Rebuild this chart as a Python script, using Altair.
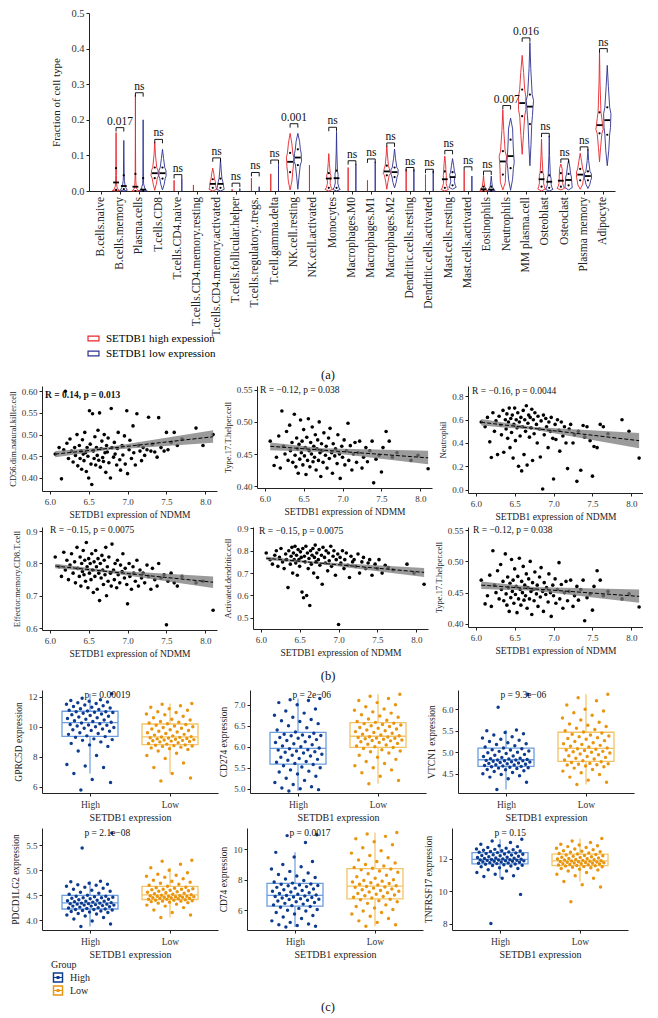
import json
import numpy as np
import pandas as pd
import altair as alt

FONT = "Liberation Serif"
RED = "#e8262b"
NAVY = "#2e3192"
HI_LAB = "SETDB1 high expession"
LO_LAB = "SETDB1 low expression"

# ---------------- panel (a): violin summaries ----------------
cats = ["B.cells.naive", "B.cells.memory", "Plasma.cells", "T.cells.CD8", "T.cells.CD4.naive",
        "T.cells.CD4.memory.resting", "T.cells.CD4.memory.activated", "T.cells.follicular.helper",
        "T.cells.regulatory..tregs.", "T.cell.gamma.delta", "NK.cell.resting", "NK.cell.activated",
        "Monocytes", "Macrophages.M0", "Macrophages.M1", "Macrophages.M2", "Dendritic.cells.resting",
        "Dendritic.cells.activated", "Mast.cells.resting", "Mast.cells.activated", "Eosinophils",
        "Neutrophils", "MM plasma.cell", "Osteoblast", "Osteoclast", "Plasma memory", "Adipocyte"]

hi_min = [0, 0, 0, 0.002, 0, 0, 0, 0, 0, 0, 0.003, 0, 0, 0, 0, 0.005, 0, 0, 0, 0, 0, 0.003, 0.103, 0, 0.003, 0.005, 0.082]
hi_q1 = [0, 0.003, 0, 0.036, 0, 0, 0.009, 0, 0, 0, 0.053, 0, 0.009, 0, 0, 0.044, 0, 0, 0.009, 0, 0, 0.046, 0.21, 0.012, 0.012, 0.03, 0.162]
hi_med = [0, 0.024, 0.012, 0.05, 0, 0, 0.02, 0, 0, 0, 0.082, 0, 0.035, 0, 0, 0.055, 0, 0, 0.033, 0, 0.005, 0.083, 0.247, 0.033, 0.029, 0.046, 0.185]
hi_q3 = [0, 0.064, 0.048, 0.066, 0, 0, 0.033, 0, 0, 0, 0.107, 0, 0.05, 0, 0, 0.071, 0, 0, 0.055, 0, 0.012, 0.112, 0.285, 0.053, 0.05, 0.062, 0.221]
hi_max = [0, 0.164, 0.27, 0.137, 0.03, 0.017, 0.064, 0.005, 0.036, 0.048, 0.162, 0.073, 0.105, 0.066, 0.03, 0.126, 0.062, 0.046, 0.098, 0.057, 0.044, 0.228, 0.381, 0.146, 0.076, 0.106, 0.392]

lo_min = [0, 0, 0, 0.003, 0, 0, 0, 0, 0, 0, 0.005, 0, 0, 0, 0, 0.009, 0, 0, 0.005, 0, 0, 0.002, 0.071, 0, 0.003, 0.007, 0.071]
lo_q1 = [0, 0.005, 0, 0.035, 0, 0, 0.009, 0, 0, 0, 0.073, 0, 0.009, 0, 0, 0.039, 0, 0, 0.016, 0, 0, 0.064, 0.188, 0.009, 0.016, 0.03, 0.158]
lo_med = [0, 0.014, 0.004, 0.05, 0, 0, 0.02, 0, 0, 0, 0.094, 0, 0.036, 0, 0, 0.053, 0, 0, 0.039, 0, 0.004, 0.098, 0.237, 0.026, 0.031, 0.042, 0.199]
lo_q3 = [0, 0.044, 0.036, 0.066, 0, 0, 0.035, 0, 0, 0, 0.117, 0, 0.057, 0, 0, 0.066, 0, 0, 0.053, 0, 0.012, 0.144, 0.271, 0.044, 0.048, 0.055, 0.235]
lo_max = [0, 0.142, 0.20, 0.117, 0.035, 0, 0.089, 0.007, 0.012, 0.075, 0.162, 0, 0.167, 0.076, 0.082, 0.118, 0.06, 0.057, 0.091, 0.042, 0.042, 0.205, 0.417, 0.155, 0.087, 0.117, 0.353]

br_y = [None, 0.178, 0.276, 0.145, 0.046, None, 0.093, 0.022, 0.052, 0.087, 0.189, None, 0.179, 0.085, 0.09,
        0.135, 0.066, 0.061, 0.114, 0.068, 0.056, 0.24, 0.43, 0.162, 0.09, 0.124, 0.40]
br_lab = ["", "0.017", "ns", "ns", "ns", "", "ns", "ns", "ns", "ns", "0.001", "", "ns", "ns", "ns", "ns", "ns",
          "ns", "ns", "ns", "ns", "0.007", "0.016", "ns", "ns", "ns", "ns"]

# ---------------- panel (b): scatter data ----------------
setdb1_expr = [6.07, 6.12, 6.15, 6.18, 6.20, 6.22, 6.24, 6.26, 6.28, 6.30,
               6.32, 6.33, 6.35, 6.36, 6.38, 6.39, 6.40, 6.41, 6.42, 6.43,
               6.44, 6.45, 6.46, 6.47, 6.48, 6.49, 6.50, 6.51, 6.52, 6.53,
               6.54, 6.55, 6.56, 6.57, 6.58, 6.59, 6.60, 6.61, 6.62, 6.63,
               6.64, 6.65, 6.66, 6.67, 6.68, 6.69, 6.70, 6.71, 6.72, 6.73,
               6.74, 6.75, 6.76, 6.78, 6.79, 6.80, 6.82, 6.83, 6.84, 6.86,
               6.87, 6.88, 6.90, 6.91, 6.93, 6.94, 6.96, 6.97, 6.99, 7.00,
               7.02, 7.03, 7.05, 7.07, 7.08, 7.10, 7.12, 7.14, 7.16, 7.18,
               7.20, 7.22, 7.25, 7.27, 7.30, 7.32, 7.35, 7.38, 7.40, 7.43,
               7.47, 7.50, 7.52, 7.56, 7.60, 7.64, 7.70, 7.88, 7.97, 8.10]

y_cd56_nk = [0.455, 0.470, 0.398, 0.465, 0.600, 0.480, 0.445, 0.490, 0.462, 0.437,
             0.470, 0.452, 0.500, 0.428, 0.475, 0.445, 0.462, 0.420, 0.488, 0.455,
             0.440, 0.505, 0.458, 0.415, 0.470, 0.450, 0.400, 0.555, 0.478, 0.432,
             0.385, 0.548, 0.462, 0.445, 0.495, 0.430, 0.470, 0.452, 0.510, 0.441,
             0.550, 0.425, 0.468, 0.485, 0.447, 0.438, 0.500, 0.458, 0.413, 0.475,
             0.460, 0.492, 0.435, 0.400, 0.560, 0.470, 0.448, 0.482, 0.455, 0.430,
             0.468, 0.505, 0.442, 0.418, 0.475, 0.453, 0.497, 0.432, 0.555, 0.410,
             0.465, 0.487, 0.445, 0.520, 0.458, 0.430, 0.548, 0.475, 0.462, 0.440,
             0.470, 0.452, 0.465, 0.540, 0.462, 0.478, 0.460, 0.448, 0.539, 0.470,
             0.462, 0.505, 0.465, 0.482, 0.505, 0.475, 0.490, 0.515, 0.475, 0.500]

y_th17 = [0.470, 0.432, 0.445, 0.478, 0.428, 0.517, 0.462, 0.450, 0.485, 0.440,
          0.495, 0.455, 0.468, 0.437, 0.512, 0.448, 0.430, 0.475, 0.458, 0.420,
          0.465, 0.442, 0.503, 0.452, 0.470, 0.433, 0.488, 0.447, 0.460, 0.418,
          0.476, 0.440, 0.505, 0.455, 0.430, 0.468, 0.450, 0.492, 0.438, 0.462,
          0.445, 0.480, 0.425, 0.458, 0.472, 0.440, 0.500, 0.452, 0.415, 0.466,
          0.455, 0.437, 0.483, 0.448, 0.462, 0.428, 0.475, 0.443, 0.490, 0.452,
          0.420, 0.466, 0.447, 0.458, 0.435, 0.480, 0.450, 0.412, 0.462, 0.445,
          0.472, 0.433, 0.455, 0.498, 0.440, 0.463, 0.425, 0.450, 0.468, 0.437,
          0.452, 0.470, 0.428, 0.445, 0.460, 0.438, 0.455, 0.470, 0.405, 0.442,
          0.448, 0.422, 0.460, 0.485, 0.470, 0.445, 0.452, 0.440, 0.448, 0.427]

y_neutrophil = [0.580, 0.540, 0.620, 0.410, 0.275, 0.660, 0.500, 0.590, 0.300, 0.630,
                0.555, 0.470, 0.680, 0.320, 0.600, 0.520, 0.650, 0.440, 0.580, 0.700,
                0.360, 0.610, 0.490, 0.640, 0.270, 0.560, 0.700, 0.420, 0.600, 0.530,
                0.660, 0.200, 0.580, 0.460, 0.620, 0.160, 0.540, 0.680, 0.300, 0.600,
                0.500, 0.720, 0.210, 0.570, 0.640, 0.450, 0.620, 0.530, 0.690, 0.250,
                0.600, 0.480, 0.660, 0.560, 0.400, 0.630, 0.520, 0.280, 0.590, 0.005,
                0.640, 0.470, 0.610, 0.540, 0.360, 0.580, 0.500, 0.620, 0.440, 0.090,
                0.560, 0.430, 0.600, 0.510, 0.330, 0.580, 0.460, 0.540, 0.400, 0.180,
                0.520, 0.560, 0.400, 0.470, 0.070, 0.500, 0.165, 0.550, 0.450, 0.540,
                0.420, 0.115, 0.370, 0.360, 0.560, 0.540, 0.480, 0.600, 0.500, 0.270]

y_cd8_em = [0.820, 0.790, 0.760, 0.835, 0.780, 0.810, 0.750, 0.795, 0.830, 0.770,
            0.805, 0.740, 0.850, 0.785, 0.760, 0.820, 0.730, 0.800, 0.775, 0.840,
            0.765, 0.810, 0.745, 0.865, 0.790, 0.725, 0.815, 0.770, 0.800, 0.750,
            0.830, 0.780, 0.710, 0.805, 0.760, 0.840, 0.790, 0.720, 0.815, 0.770,
            0.685, 0.800, 0.755, 0.825, 0.780, 0.735, 0.810, 0.765, 0.850, 0.700,
            0.790, 0.745, 0.820, 0.770, 0.730, 0.860, 0.780, 0.750, 0.800, 0.725,
            0.810, 0.765, 0.740, 0.795, 0.775, 0.830, 0.755, 0.785, 0.735, 0.675,
            0.800, 0.760, 0.720, 0.790, 0.770, 0.745, 0.810, 0.730, 0.780, 0.755,
            0.770, 0.740, 0.795, 0.760, 0.720, 0.785, 0.750, 0.730, 0.800, 0.755,
            0.765, 0.610, 0.745, 0.770, 0.740, 0.730, 0.760, 0.740, 0.745, 0.655]

y_act_dc = [0.790, 0.760, 0.740, 0.780, 0.800, 0.730, 0.770, 0.810, 0.750, 0.720,
            0.785, 0.760, 0.635, 0.800, 0.740, 0.775, 0.815, 0.700, 0.790, 0.760,
            0.820, 0.745, 0.780, 0.690, 0.805, 0.760, 0.730, 0.795, 0.770, 0.615,
            0.810, 0.590, 0.775, 0.750, 0.820, 0.600, 0.790, 0.720, 0.765, 0.555,
            0.800, 0.740, 0.780, 0.810, 0.700, 0.770, 0.825, 0.750, 0.790, 0.680,
            0.760, 0.805, 0.735, 0.780, 0.650, 0.815, 0.770, 0.745, 0.800, 0.710,
            0.790, 0.755, 0.820, 0.730, 0.775, 0.800, 0.690, 0.760, 0.785, 0.470,
            0.770, 0.745, 0.800, 0.720, 0.760, 0.790, 0.735, 0.680, 0.775, 0.750,
            0.760, 0.730, 0.785, 0.700, 0.750, 0.770, 0.720, 0.745, 0.760, 0.690,
            0.740, 0.720, 0.760, 0.700, 0.735, 0.725, 0.715, 0.740, 0.700, 0.650]

# fitted line and confidence band
fit_x = [6.07, 6.75, 8.10]
fit_nk = ([0.455, 0.468, 0.495], [0.448, 0.4645, 0.481], [0.462, 0.4715, 0.510])
fit_th17 = ([0.462, 0.456, 0.444], [0.456, 0.453, 0.434], [0.468, 0.459, 0.455])
fit_neu = ([0.578, 0.525, 0.420], [0.550, 0.513, 0.355], [0.606, 0.537, 0.485])
fit_cd8 = ([0.792, 0.775, 0.742], [0.785, 0.771, 0.724], [0.799, 0.779, 0.760])
fit_dc = ([0.766, 0.745, 0.703], [0.758, 0.741, 0.683], [0.774, 0.749, 0.723])

# ---------------- panel (c): expression by group ----------------
groups_c = ["High", "Low"]
gprc5d_high = [5.8, 6.3, 6.5, 6.9, 7.3, 7.4, 7.5, 8.1, 8.4, 8.7, 8.8, 8.9, 9.0, 9.1, 9.15, 9.2, 9.3,
               9.35, 9.4, 9.5, 9.55, 9.6, 9.7, 9.75, 9.8, 9.85, 9.9, 9.95, 10.0, 10.05, 10.1, 10.12, 10.15, 10.2, 10.25,
               10.3, 10.35, 10.4, 10.45, 10.5, 10.55, 10.6, 10.65, 10.7, 10.75, 10.8, 10.85, 10.9, 10.95, 10.97, 11.0, 11.0,
               11.05, 11.1, 11.15, 11.2, 11.25, 11.3, 11.35, 11.4, 11.45, 11.5, 11.55, 11.6, 11.65, 11.7, 11.75, 11.8, 11.9, 12.2]
gprc5d_low = [6.4, 6.6, 6.9, 7.3, 7.6, 7.9, 8.1, 8.25, 8.4, 8.5, 8.55, 8.6, 8.65, 8.7, 8.72, 8.75, 8.78,
              8.8, 8.85, 8.9, 8.95, 9.0, 9.02, 9.05, 9.08, 9.1, 9.12, 9.15, 9.18, 9.2, 9.22, 9.25, 9.27, 9.3, 9.32,
              9.35, 9.4, 9.45, 9.5, 9.55, 9.6, 9.65, 9.7, 9.75, 9.8, 9.85, 9.9, 9.95, 10.0, 10.05, 10.1, 10.15,
              10.2, 10.25, 10.3, 10.35, 10.45, 10.5, 10.6, 10.7, 10.8, 10.85, 10.95, 11.0, 11.1, 11.2, 11.3, 11.4, 11.5, 11.55]
cd274_high = [4.95, 4.98, 5.0, 5.02, 5.05, 5.1, 5.15, 5.2, 5.25, 5.3, 5.35, 5.4, 5.42, 5.45, 5.5, 5.52, 5.55,
              5.58, 5.6, 5.63, 5.65, 5.68, 5.7, 5.72, 5.75, 5.78, 5.8, 5.82, 5.85, 5.87, 5.88, 5.9, 5.92, 5.93, 5.95,
              5.97, 6.0, 6.02, 6.05, 6.07, 6.1, 6.12, 6.15, 6.17, 6.2, 6.22, 6.24, 6.26, 6.27, 6.28, 6.3, 6.32,
              6.35, 6.4, 6.45, 6.5, 6.55, 6.6, 6.62, 6.65, 6.7, 6.75, 6.8, 6.85, 6.9, 7.0, 7.05, 7.1, 7.12, 7.15]
cd274_low = [5.12, 5.2, 5.3, 5.38, 5.45, 5.5, 5.55, 5.6, 5.65, 5.7, 5.75, 5.8, 5.85, 5.88, 5.9, 5.93, 5.96,
             5.98, 6.0, 6.02, 6.04, 6.06, 6.08, 6.1, 6.12, 6.14, 6.15, 6.16, 6.18, 6.19, 6.2, 6.21, 6.22, 6.23, 6.24,
             6.26, 6.28, 6.3, 6.32, 6.34, 6.36, 6.38, 6.4, 6.42, 6.44, 6.46, 6.48, 6.5, 6.52, 6.53, 6.55, 6.56,
             6.58, 6.6, 6.63, 6.66, 6.7, 6.73, 6.76, 6.8, 6.83, 6.87, 6.9, 6.95, 7.0, 7.05, 7.1, 7.15, 7.2, 7.25]
vtcn1_high = [4.13, 4.3, 4.38, 4.42, 4.45, 4.48, 4.5, 4.53, 4.55, 4.57, 4.59, 4.6, 4.62, 4.63, 4.64, 4.65, 4.66,
              4.67, 4.68, 4.69, 4.7, 4.71, 4.72, 4.73, 4.74, 4.75, 4.76, 4.77, 4.78, 4.79, 4.8, 4.8, 4.81, 4.82, 4.82,
              4.83, 4.84, 4.85, 4.86, 4.88, 4.9, 4.91, 4.93, 4.95, 4.97, 4.99, 5.0, 5.02, 5.03, 5.05, 5.06, 5.08,
              5.1, 5.12, 5.15, 5.18, 5.2, 5.22, 5.25, 5.28, 5.3, 5.33, 5.36, 5.4, 5.43, 5.46, 5.5, 5.52, 6.05, 6.35]
vtcn1_low = [4.25, 4.3, 4.35, 4.42, 4.48, 4.52, 4.56, 4.6, 4.63, 4.66, 4.68, 4.7, 4.71, 4.72, 4.73, 4.74, 4.76,
             4.78, 4.8, 4.82, 4.84, 4.86, 4.88, 4.9, 4.92, 4.94, 4.96, 4.98, 5.0, 5.01, 5.02, 5.04, 5.05, 5.07, 5.08,
             5.1, 5.12, 5.14, 5.16, 5.18, 5.2, 5.22, 5.25, 5.27, 5.3, 5.32, 5.34, 5.36, 5.38, 5.4, 5.42, 5.45,
             5.47, 5.5, 5.53, 5.56, 5.6, 5.63, 5.66, 5.7, 5.75, 5.8, 5.86, 5.92, 5.96, 6.0, 6.1, 6.2, 6.27, 6.35]
pdcd1lg2_high = [3.87, 3.92, 3.98, 4.02, 4.05, 4.08, 4.1, 4.12, 4.13, 4.15, 4.16, 4.17, 4.18, 4.19, 4.2, 4.21, 4.21,
                 4.22, 4.23, 4.24, 4.25, 4.26, 4.27, 4.28, 4.28, 4.29, 4.3, 4.3, 4.31, 4.32, 4.32, 4.33, 4.33, 4.34, 4.34,
                 4.35, 4.36, 4.37, 4.38, 4.38, 4.39, 4.4, 4.41, 4.42, 4.43, 4.44, 4.45, 4.45, 4.46, 4.47, 4.48, 4.48,
                 4.5, 4.52, 4.54, 4.56, 4.58, 4.6, 4.62, 4.64, 4.66, 4.68, 4.7, 4.71, 4.72, 4.74, 4.77, 4.78, 5.45, 5.75]
pdcd1lg2_low = [4.05, 4.1, 4.15, 4.2, 4.25, 4.28, 4.3, 4.32, 4.34, 4.35, 4.36, 4.37, 4.38, 4.38, 4.39, 4.4, 4.4,
                4.41, 4.42, 4.42, 4.43, 4.44, 4.44, 4.45, 4.45, 4.46, 4.46, 4.47, 4.47, 4.48, 4.48, 4.48, 4.49, 4.49, 4.5,
                4.51, 4.52, 4.53, 4.54, 4.55, 4.56, 4.57, 4.58, 4.59, 4.6, 4.61, 4.62, 4.62, 4.63, 4.64, 4.65, 4.66,
                4.68, 4.7, 4.72, 4.74, 4.76, 4.78, 4.8, 4.83, 4.86, 4.88, 4.9, 4.92, 4.95, 5.0, 5.05, 5.12, 5.18, 5.2]
cd74_high = [4.9, 4.95, 5.0, 5.05, 5.1, 5.2, 5.3, 5.45, 5.55, 5.65, 5.75, 5.85, 5.95, 6.0, 6.05, 6.12, 6.2,
             6.25, 6.3, 6.35, 6.4, 6.45, 6.5, 6.55, 6.6, 6.65, 6.7, 6.72, 6.75, 6.8, 6.83, 6.87, 6.9, 6.93, 6.96,
             7.0, 7.05, 7.1, 7.15, 7.2, 7.25, 7.3, 7.35, 7.4, 7.45, 7.5, 7.55, 7.6, 7.63, 7.66, 7.7, 7.72,
             7.78, 7.85, 7.95, 8.05, 8.15, 8.25, 8.35, 8.45, 8.55, 8.7, 8.85, 9.0, 9.2, 9.5, 9.8, 10.45, 10.9, 10.95]
cd74_low = [4.95, 5.05, 5.2, 5.3, 5.45, 5.6, 5.75, 5.85, 5.95, 6.05, 6.15, 6.25, 6.35, 6.45, 6.55, 6.62, 6.68,
            6.72, 6.8, 6.85, 6.9, 6.95, 7.0, 7.05, 7.1, 7.15, 7.2, 7.25, 7.3, 7.35, 7.4, 7.45, 7.5, 7.53, 7.56,
            7.6, 7.65, 7.7, 7.75, 7.8, 7.85, 7.9, 7.95, 8.0, 8.1, 8.2, 8.3, 8.4, 8.5, 8.58, 8.65, 8.7,
            8.75, 8.8, 8.9, 9.0, 9.1, 9.2, 9.3, 9.45, 9.6, 9.75, 9.9, 10.1, 10.3, 10.5, 10.7, 10.85, 11.0, 11.1]
tnfrsf17_high = [8.0, 9.8, 10.8, 10.9, 10.95, 11.05, 11.15, 11.25, 11.32, 11.4, 11.45, 11.5, 11.55, 11.58, 11.6, 11.63, 11.66,
                 11.68, 11.7, 11.72, 11.74, 11.76, 11.78, 11.8, 11.82, 11.84, 11.85, 11.87, 11.88, 11.9, 11.91, 11.92, 11.93, 11.94, 11.95,
                 11.97, 11.99, 12.01, 12.03, 12.05, 12.08, 12.1, 12.12, 12.15, 12.18, 12.2, 12.23, 12.25, 12.28, 12.3, 12.33, 12.36,
                 12.38, 12.4, 12.42, 12.45, 12.48, 12.5, 12.52, 12.55, 12.58, 12.6, 12.65, 12.7, 12.75, 12.8, 12.9, 13.0, 13.1, 13.2]
tnfrsf17_low = [9.35, 10.25, 10.4, 10.6, 10.8, 10.95, 11.05, 11.15, 11.25, 11.3, 11.35, 11.4, 11.45, 11.48, 11.5, 11.52, 11.55,
                11.57, 11.59, 11.61, 11.63, 11.65, 11.67, 11.69, 11.7, 11.72, 11.74, 11.75, 11.77, 11.79, 11.8, 11.82, 11.83, 11.85, 11.86,
                11.88, 11.9, 11.92, 11.94, 11.96, 11.98, 12.0, 12.02, 12.05, 12.08, 12.1, 12.13, 12.15, 12.18, 12.2, 12.23, 12.26,
                12.3, 12.33, 12.36, 12.4, 12.43, 12.46, 12.5, 12.55, 12.6, 12.65, 12.7, 12.75, 12.8, 12.85, 12.9, 13.0, 13.1, 13.25]

# ======================= builders =======================
AX_COL = "#222222"
A_H = 178


def violin_vertices(st, maxhw=0.19):
    mn, q1, md, q3, mx = st
    if mx <= 0:
        return []
    if q3 <= 0:
        return [(0.0, 0.0), (mx, 0.0)]
    lv = [mn, q1, md, q3, mx]
    d = [0.25 / max(lv[k + 1] - lv[k], 0.004) for k in range(4)]
    pts = [(mn, 0.0), ((mn + q1) / 2, d[0]), (q1, (d[0] + d[1]) / 2), ((q1 + md) / 2, d[1]),
           (md, (d[1] + d[2]) / 2), ((md + q3) / 2, d[2]), (q3, (d[2] + d[3]) / 2), ((q3 + mx) / 2, d[3]), (mx, 0.0)]
    merged = {}
    for y, w in pts:
        k = round(y, 6)
        merged[k] = max(merged.get(k, 0.0), w)
    ys = sorted(merged)
    top = max(merged.values())
    out = []
    for j, y in enumerate(ys):
        w = merged[y] / top * maxhw
        if j == len(ys) - 1:
            w = 0.0
        out.append((y, w))
    return out


vrows, mrows, qrows = [], [], []
for i in range(len(cats)):
    for grp, off, st in ((HI_LAB, -0.2, (hi_min[i], hi_q1[i], hi_med[i], hi_q3[i], hi_max[i])),
                         (LO_LAB, 0.2, (lo_min[i], lo_q1[i], lo_med[i], lo_q3[i], lo_max[i]))):
        c = i + off
        verts = violin_vertices(st)
        if not verts:
            continue
        path = [(c - w, y) for y, w in verts] + [(c + w, y) for y, w in reversed(verts)]
        path.append(path[0])
        for k, (px, py) in enumerate(path):
            vrows.append({"vid": f"{i}_{grp}", "grp": grp, "k": k, "vx": px, "vy": py})
        if st[3] > 0:
            mrows.append({"mlo": c - 0.15, "mhi": c + 0.15, "med": st[2]})
            qrows.append({"c": c, "q": st[1]})
            qrows.append({"c": c, "q": st[3]})

brows, lrows = [], []
for i in range(len(cats)):
    if br_y[i] is None:
        continue
    brows.append({"c": float(i), "bl": i - 0.2, "brr": i + 0.2, "by": br_y[i], "lab": br_lab[i]})
    for s in (-0.2, 0.2):
        lrows.append({"lx": i + s, "by": br_y[i], "by2": br_y[i] - 0.011})

vdf, mdf, qdf = pd.DataFrame(vrows), pd.DataFrame(mrows), pd.DataFrame(qrows)
bdf, ldf = pd.DataFrame(brows), pd.DataFrame(lrows)
cdf = pd.DataFrame({"ci": list(range(len(cats))), "name": cats})

xs_a = alt.Scale(domain=[-0.6, 26.6], nice=False, zero=False, padding=0)
xa_a = alt.Axis(values=list(range(len(cats))), labels=False, title=None, tickSize=3, grid=False)
ys_a = alt.Scale(domain=[0, 0.5], nice=False, zero=False, padding=0)
ya_a = alt.Axis(values=[0, 0.1, 0.2, 0.3, 0.4, 0.5], format=".1f", title="Fraction of cell type",
                titleFontSize=11, labelFontSize=10.5, tickSize=3, titlePadding=9, grid=False)

leg_a = alt.Legend(title=None, orient="none", legendX=-2, legendY=319, symbolType="M-1,-0.42H1V0.42H-1Z",
                   symbolSize=120, symbolStrokeWidth=1.2, symbolFillColor="white", labelFontSize=11,
                   rowPadding=3, labelOffset=6)

viol = alt.Chart(vdf).mark_line(strokeWidth=0.9).encode(
    x=alt.X("vx:Q", scale=xs_a, axis=xa_a),
    y=alt.Y("vy:Q", scale=ys_a, axis=ya_a),
    stroke=alt.Stroke("grp:N", scale=alt.Scale(domain=[HI_LAB, LO_LAB], range=[RED, NAVY]), legend=leg_a),
    detail="vid:N",
    order=alt.Order("k:Q"),
)
med_a = alt.Chart(mdf).mark_rule(color="black", strokeWidth=1.8).encode(
    x=alt.X("mlo:Q", scale=xs_a, axis=xa_a), x2="mhi:Q", y=alt.Y("med:Q", scale=ys_a, axis=ya_a))
q_a = alt.Chart(qdf).mark_circle(color="black", size=5, opacity=1).encode(
    x=alt.X("c:Q", scale=xs_a, axis=xa_a), y=alt.Y("q:Q", scale=ys_a, axis=ya_a))
bh = alt.Chart(bdf).mark_rule(color="black", strokeWidth=0.9).encode(
    x=alt.X("bl:Q", scale=xs_a, axis=xa_a), x2="brr:Q", y=alt.Y("by:Q", scale=ys_a, axis=ya_a))
bl = alt.Chart(ldf).mark_rule(color="black", strokeWidth=0.9).encode(
    x=alt.X("lx:Q", scale=xs_a, axis=xa_a), y=alt.Y("by:Q", scale=ys_a, axis=ya_a), y2="by2:Q")
bt = alt.Chart(bdf).mark_text(baseline="bottom", dy=-1, fontSize=11.5, color="#111").encode(
    x=alt.X("c:Q", scale=xs_a, axis=xa_a), y=alt.Y("by:Q", scale=ys_a, axis=ya_a), text="lab:N")
names = alt.Chart(cdf).mark_text(angle=270, align="right", baseline="middle", fontSize=11.5,
                                 color="#222").encode(
    x=alt.X("ci:Q", scale=xs_a, axis=xa_a), y=alt.value(A_H + 6), text="name:N")

chart_a = alt.layer(viol, med_a, q_a, bh, bl, bt, names).properties(width=526, height=A_H)


def scatter_panel(yv, ytitle, ydom, yticks, yfmt, fit, ann, ax, ay, h, bold=False):
    df = pd.DataFrame({"x": setdb1_expr, "y": yv})
    fdf = pd.DataFrame({"x": fit_x, "mid": fit[0], "lo": fit[1], "hi": fit[2]})
    xs = alt.Scale(domain=[5.9, 8.15], nice=False, zero=False, padding=0)
    xa = alt.Axis(values=[6.0, 6.5, 7.0, 7.5, 8.0], format=".1f", title="SETDB1 expression of NDMM",
                  labelFontSize=9, titleFontSize=9.5, tickSize=3, labelPadding=3, titlePadding=3, grid=False)
    ys = alt.Scale(domain=ydom, nice=False, zero=False, padding=0)
    ya = alt.Axis(values=yticks, format=yfmt, title=ytitle, labelFontSize=9, titleFontSize=8.5,
                  tickSize=3, titlePadding=4, grid=False)
    pts = alt.Chart(df).mark_circle(size=13, color="black", opacity=1).encode(
        x=alt.X("x:Q", scale=xs, axis=xa), y=alt.Y("y:Q", scale=ys, axis=ya))
    band = alt.Chart(fdf).mark_area(color="#7a7a7a", opacity=0.75).encode(
        x=alt.X("x:Q", scale=xs, axis=xa), y=alt.Y("lo:Q", scale=ys, axis=ya), y2="hi:Q")
    line = alt.Chart(fdf).mark_line(color="black", strokeDash=[4, 2], strokeWidth=1).encode(
        x=alt.X("x:Q", scale=xs, axis=xa), y=alt.Y("mid:Q", scale=ys, axis=ya))
    txt = alt.Chart(pd.DataFrame({"t": [ann]})).mark_text(
        align="left", baseline="middle", fontSize=9.5, fontWeight="bold" if bold else "normal", color="#111"
    ).encode(x=alt.value(ax), y=alt.value(ay), text="t:N")
    return alt.layer(pts, band, line, txt).properties(width=175, height=h)


HI_PT, LO_PT = "#0d3b8e", "#e8950f"
HI_BOX, LO_BOX = "#6b9ddf", "#f3c367"
RING = ("M-1,-1H1V1H-1Z M-0.72,-0.72V0.72H0.72V-0.72Z M-0.72,-0.09H0.72V0.09H-0.72Z "
        "M-0.28,-0.28H0.28V0.28H-0.28Z")


def box_stats(vals):
    a = np.asarray(vals, dtype=float)
    q1, md, q3 = np.percentile(a, [25, 50, 75])
    iqr = q3 - q1
    return q1, md, q3, a[a >= q1 - 1.5 * iqr].min(), a[a <= q3 + 1.5 * iqr].max()


def box_panel(hv, lv, ytitle, ydom, yticks, yfmt, ptxt, h):
    prow, srow = [], []
    for g, grp, vals in ((1, "High", hv), (2, "Low", lv)):
        for k, v in enumerate(vals):
            j = ((k * 0.618034 + 0.31) % 1.0) - 0.5
            prow.append({"grp": grp, "v": v, "xj": g + j * 0.6})
        q1, md, q3, wlo, whi = box_stats(vals)
        srow.append({"grp": grp, "g": float(g), "b1": g - 0.35, "b2": g + 0.35,
                     "q1": q1, "med": md, "q3": q3, "wlo": wlo, "whi": whi})
    pdf, sdf = pd.DataFrame(prow), pd.DataFrame(srow)
    xs = alt.Scale(domain=[0.4, 2.6], nice=False, zero=False, padding=0)
    xa = alt.Axis(values=[1, 2], labelExpr="datum.value == 1 ? 'High' : 'Low'", title="SETDB1 expression",
                  labelFontSize=9.5, titleFontSize=10, tickSize=3, labelPadding=3, titlePadding=4, grid=False)
    ys = alt.Scale(domain=ydom, nice=False, zero=False, padding=0)
    ya = alt.Axis(values=yticks, format=yfmt, title=ytitle, labelFontSize=9, titleFontSize=9.5,
                  tickSize=3, titlePadding=5, grid=False)
    bs = alt.Stroke("grp:N", scale=alt.Scale(domain=groups_c, range=[HI_BOX, LO_BOX]), legend=None)
    box = alt.Chart(sdf).mark_bar(fillOpacity=0, strokeWidth=1.3).encode(
        x=alt.X("b1:Q", scale=xs, axis=xa), x2="b2:Q", y=alt.Y("q1:Q", scale=ys, axis=ya), y2="q3:Q", stroke=bs)
    medr = alt.Chart(sdf).mark_rule(strokeWidth=1.3).encode(
        x=alt.X("b1:Q", scale=xs, axis=xa), x2="b2:Q", y=alt.Y("med:Q", scale=ys, axis=ya), stroke=bs)
    wh1 = alt.Chart(sdf).mark_rule(strokeWidth=1.2).encode(
        x=alt.X("g:Q", scale=xs, axis=xa), y=alt.Y("q3:Q", scale=ys, axis=ya), y2="whi:Q", stroke=bs)
    wh2 = alt.Chart(sdf).mark_rule(strokeWidth=1.2).encode(
        x=alt.X("g:Q", scale=xs, axis=xa), y=alt.Y("q1:Q", scale=ys, axis=ya), y2="wlo:Q", stroke=bs)
    pts = alt.Chart(pdf).mark_circle(size=12, opacity=1).encode(
        x=alt.X("xj:Q", scale=xs, axis=xa), y=alt.Y("v:Q", scale=ys, axis=ya),
        color=alt.Color("grp:N", scale=alt.Scale(domain=groups_c, range=[HI_PT, LO_PT]), legend=None))
    txt = alt.Chart(pd.DataFrame({"t": [ptxt], "tx": [0.93]})).mark_text(
        align="left", baseline="middle", fontSize=9.5, color="#111").encode(
        x=alt.X("tx:Q", scale=xs, axis=xa), y=alt.value(5), text="t:N")
    return alt.layer(box, medr, wh1, wh2, pts, txt).properties(width=176, height=h)


def group_legend():
    df = pd.DataFrame({"grp": groups_c})
    yenc = alt.Y("grp:N", axis=None, scale=alt.Scale(domain=groups_c))
    sym = alt.Chart(df).mark_point(shape=RING, filled=True, size=110, opacity=1).encode(
        x=alt.value(7), y=yenc,
        color=alt.Color("grp:N", scale=alt.Scale(domain=groups_c, range=[HI_PT, LO_PT]), legend=None))
    lab = alt.Chart(df).mark_text(align="left", baseline="middle", fontSize=10, color="#222").encode(
        x=alt.value(19), y=yenc, text="grp:N")
    return alt.layer(sym, lab).properties(
        width=60, height=26,
        title=alt.TitleParams("Group", anchor="start", frame="group", fontSize=10, fontWeight="normal",
                              offset=1, color="#222"))


def spacer(w, h=10):
    return alt.Chart(pd.DataFrame({"t": [""]})).mark_text(baseline="top", align="left").encode(
        text="t:N", x=alt.value(0), y=alt.value(0)).properties(width=w, height=h)


def label(t, xpos, ypos, h, w=580):
    return alt.Chart(pd.DataFrame({"t": [t]})).mark_text(fontSize=12.5, color="#111").encode(
        text="t:N", x=alt.value(xpos), y=alt.value(ypos)).properties(width=w, height=h)


def indep(ch):
    return ch.resolve_scale(color="independent", stroke="independent").resolve_legend(
        color="independent", stroke="independent")


b1 = scatter_panel(y_cd56_nk, "CD56.dim.natural.killer.cell", [0.37, 0.612], [0.40, 0.45, 0.50, 0.55, 0.60],
                   ".2f", fit_nk, "R = 0.14, p = 0.013", 3, 9, 105, bold=True)
b2 = scatter_panel(y_th17, "Type.17.T.helper.cell", [0.397, 0.556], [0.40, 0.45, 0.50, 0.55], ".2f",
                   fit_th17, "R = \u22120.12, p = 0.038", 3, 4, 102)
b3 = scatter_panel(y_neutrophil, "Neutrophil", [-0.03, 0.89], [0.0, 0.2, 0.4, 0.6, 0.8], ".1f",
                   fit_neu, "R = \u22120.16, p = 0.0044", 4, 5, 107)
b4 = scatter_panel(y_cd8_em, "Effector.memory.CD8.T.cell", [0.594, 0.913], [0.6, 0.7, 0.8, 0.9], ".1f",
                   fit_cd8, "R = \u22120.15, p = 0.0075", 8, 3, 103)
b5 = scatter_panel(y_act_dc, "Activated.dendritic.cell", [0.45, 0.906], [0.5, 0.6, 0.7, 0.8, 0.9], ".1f",
                   fit_dc, "R = \u22120.15, p = 0.0075", 6, 4, 102)
b6 = scatter_panel(y_th17, "Type.17.T.helper.cell", [0.395, 0.555], [0.40, 0.45, 0.50, 0.55], ".2f",
                   fit_th17, "R = \u22120.12, p = 0.038", 5, 3, 100)

c1 = box_panel(gprc5d_high, gprc5d_low, "GPRC5D expression", [5.6, 12.45], [6, 8, 10, 12], "d",
               "p = 0.00019", 103)
c2 = box_panel(cd274_high, cd274_low, "CD274 expression", [4.9, 7.35], [5.0, 5.5, 6.0, 6.5, 7.0], ".1f",
               "p = 2e\u221206", 103)
c3 = box_panel(vtcn1_high, vtcn1_low, "VTCN1 expression", [4.05, 6.45], [4.5, 5.0, 5.5, 6.0], ".1f",
               "p = 9.3e\u221206", 103)
c4 = box_panel(pdcd1lg2_high, pdcd1lg2_low, "PDCD1LG2 expression", [3.8, 5.85], [4.0, 4.5, 5.0, 5.5], ".1f",
               "p = 2.1e\u221208", 102)
c5 = box_panel(cd74_high, cd74_low, "CD74 expression", [4.7, 11.4], [6, 8, 10], "d", "p = 0.0017", 102)
c6 = box_panel(tnfrsf17_high, tnfrsf17_low, "TNFRSF17 expression", [7.6, 13.9], [8, 10, 12], "d",
               "p = 0.15", 102)

# Rows of a vconcat share one left origin (the first panel's plot edge of each row);
# a blank lead chart makes that origin sit before panel (a) and the Group key.
LEAD = 35
row_a = indep(alt.hconcat(spacer(8), chart_a, spacing=0))
lab_a = label("(a)", 321 - LEAD, 16, 26)
row_b1 = indep(alt.hconcat(b1, b2, b3, spacing=6))
row_b2 = indep(alt.hconcat(b4, b5, b6, spacing=6))
rows_b = indep(alt.vconcat(row_b1, row_b2, spacing=3))
lab_b = label("(b)", 321 - LEAD, 18, 32)
row_c1 = indep(alt.hconcat(c1, c2, c3, spacing=0))
row_c2 = indep(alt.hconcat(c4, c5, c6, spacing=0))
rows_c = indep(alt.vconcat(row_c1, row_c2, spacing=5))
row_leg = indep(alt.hconcat(spacer(9), group_legend(), spacing=0))
lab_c = label("(c)", 321 - LEAD, 10, 16)

chart = indep(alt.vconcat(row_a, lab_a, rows_b, lab_b, rows_c, row_leg, lab_c, spacing=0)).properties(
    padding={"left": 0, "top": 0, "right": 0, "bottom": 0}
).configure(font=FONT).configure_view(strokeWidth=0).configure_axis(
    grid=False, domainColor=AX_COL, tickColor=AX_COL, labelColor="#333333", titleColor="#222222",
    titleFontWeight="normal", labelFont=FONT, titleFont=FONT, minExtent=0
).configure_legend(labelFont=FONT, titleFont=FONT).configure_title(font=FONT)

chart.save("out.html", embed_options={"renderer": "svg", "actions": False})
